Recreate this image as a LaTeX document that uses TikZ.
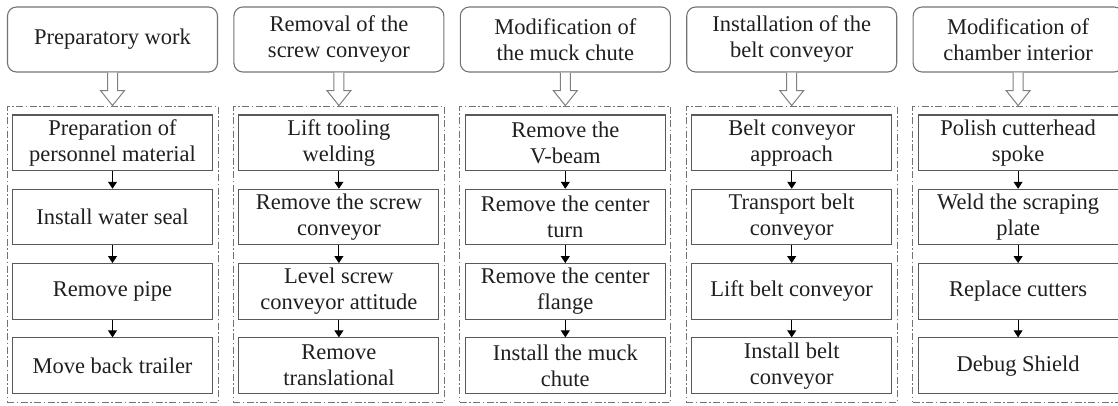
\documentclass[tikz,border=0pt]{standalone}
\usepackage{fontspec}
\setmainfont{Liberation Serif}
\newfontfamily\labelface{Liberation Serif}
\usetikzlibrary{arrows.meta,calc}
\begin{document}
\begin{tikzpicture}[x=1pt,y=-1pt,
  every node/.style={font=\labelface\fontsize{22.5}{26}\selectfont, text=black!88, align=center, inner sep=0pt},
  header/.style={draw=black!55, line width=1.1pt, rounded corners=9pt, minimum width=210pt, minimum height=65pt},
  stepbox/.style={draw=black!65, line width=1.1pt, minimum width=200pt, minimum height=55.5pt},
  group/.style={draw=black!55, line width=0.9pt, dash pattern=on 7pt off 2.5pt on 1.5pt off 2.5pt, minimum width=211pt, minimum height=296pt},
  flow/.style={-{Triangle[length=7pt,width=9pt]}, line width=0.9pt, black},
  hollow/.style={draw=black!50, fill=white, line width=1pt}
]
\useasboundingbox (0,0) rectangle (1118,405);
\begin{scope}
\clip (0,0) rectangle (1118,405);
\foreach \i/\phase/\ta/\tb/\tc/\td in {
  1/{Preparatory work}/{Preparation of\\personnel material}/{Install water seal}/{Remove pipe}/{Move back trailer},
  2/{Removal of the\\screw conveyor}/{Lift tooling\\welding}/{Remove the screw\\conveyor}/{Level screw\\conveyor attitude}/{Remove\\translational},
  3/{Modification of\\the muck chute}/{Remove the\\V-beam}/{Remove the center\\turn}/{Remove the center\\flange}/{Install the muck\\chute},
  4/{Installation of the\\belt conveyor}/{Belt conveyor\\approach}/{Transport belt\\conveyor}/{Lift belt conveyor}/{Install belt\\conveyor},
  5/{Modification of\\chamber interior}/{Polish cutterhead\\spoke}/{Weld the scraping\\plate}/{Replace cutters}/{Debug Shield}}
{
  \pgfmathsetmacro{\cx}{112.5+226.4*(\i-1)}
  % phase title and the dashed group of its steps
  \node[header] (h\i) at (\cx,39.5) {\phase};
  \node[group] (g\i) at (\cx,254) {};
  % steps of the phase
  \node[stepbox] (b\i1) at (\cx,142.75) {\ta};
  \node[stepbox] (b\i2) at (\cx,217.05) {\tb};
  \node[stepbox] (b\i3) at (\cx,291.35) {\tc};
  \node[stepbox] (b\i4) at (\cx,365.65) {\td};
  % hollow arrow from title to group
  \draw[hollow] ($(h\i.south)+(-5,0)$) -- ($(g\i.north)+(-5,-15)$) -- ($(g\i.north)+(-12,-15)$)
    -- (g\i.north) -- ($(g\i.north)+(12,-15)$) -- ($(g\i.north)+(5,-15)$) -- ($(h\i.south)+(5,0)$);
  % step sequence
  \draw[flow] (b\i1.south) -- (b\i2.north);
  \draw[flow] (b\i2.south) -- (b\i3.north);
  \draw[flow] (b\i3.south) -- (b\i4.north);
}
\end{scope}
\end{tikzpicture}
\end{document}
